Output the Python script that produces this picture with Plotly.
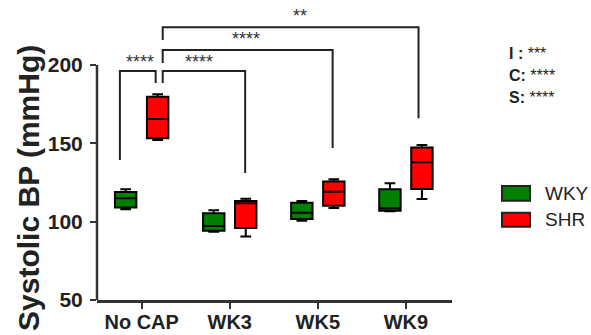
import plotly.graph_objects as go

# ---------------- data ----------------
categories = ["No CAP", "WK3", "WK5", "WK9"]

wky_lower = [108.0, 93.6, 100.6, 106.6]
wky_q1 = [109.1, 94.2, 101.7, 107.0]
wky_median = [114.9, 97.2, 105.7, 108.5]
wky_q3 = [119.0, 105.4, 112.1, 120.7]
wky_upper = [120.7, 107.3, 113.2, 124.5]

shr_lower = [152.1, 90.6, 108.7, 114.4]
shr_q1 = [153.2, 95.9, 110.2, 120.8]
shr_median = [165.5, 111.7, 119.1, 137.9]
shr_q3 = [179.8, 113.2, 125.6, 147.3]
shr_upper = [181.3, 114.7, 127.1, 149.0]

y_ticks = [50, 100, 150, 200]

# significance brackets: left x, right x (category units), top, left-leg bottom, right-leg bottom, label, label x, label y
br_left = [-0.247, 0.239, 0.239, 0.239]
br_right = [0.159, 1.175, 2.168, 3.143]
br_top = [196.2, 196.2, 209.6, 224.1]
br_left_bottom = [139.4, 188.5, 201.3, 216.0]
br_right_bottom = [188.5, 131.1, 147.0, 166.0]
br_label = ["****", "****", "****", "**"]
br_label_x = [-0.02, 0.65, 1.18, 1.797]
br_label_y = [202.0, 202.0, 216.6, 231.3]

stats_labels = ["I :", "C:", "S:"]
stats_stars = ["***", "****", "****"]

series_names = ["WKY", "SHR"]
series_colors = ["#008000", "#ff0000"]

FONT = "Liberation Sans, Arial, sans-serif"
INK = "#222222"

fig = go.Figure()
fig.add_trace(go.Box(
    name=series_names[0], x=categories,
    q1=wky_q1, median=wky_median, q3=wky_q3,
    lowerfence=wky_lower, upperfence=wky_upper,
    fillcolor=series_colors[0], line=dict(color="black", width=2),
    whiskerwidth=0.5, boxpoints=False, showlegend=False,
))
fig.add_trace(go.Box(
    name=series_names[1], x=categories,
    q1=shr_q1, median=shr_median, q3=shr_q3,
    lowerfence=shr_lower, upperfence=shr_upper,
    fillcolor=series_colors[1], line=dict(color="black", width=2),
    whiskerwidth=0.5, boxpoints=False, showlegend=False,
))

shapes = []
annotations = []

# y axis line only from 50 to 200
shapes.append(dict(type="line", xref="paper", yref="y", x0=0, x1=0,
                   y0=y_ticks[0], y1=y_ticks[-1], line=dict(color="#333333", width=2.5)))

# brackets
for i in range(len(br_label)):
    path = (f"M {br_left[i]},{br_left_bottom[i]} L {br_left[i]},{br_top[i]} "
            f"L {br_right[i]},{br_top[i]} L {br_right[i]},{br_right_bottom[i]}")
    shapes.append(dict(type="path", xref="x", yref="y", path=path,
                       line=dict(color="#222222", width=2)))
    annotations.append(dict(x=br_label_x[i], y=br_label_y[i], xref="x", yref="y",
                            text=br_label[i], showarrow=False, xanchor="center", yanchor="middle",
                            font=dict(family=FONT, size=18, color="#333333")))

# y title
annotations.append(dict(x=-0.1915, y=0.38, xref="paper", yref="paper", text="Systolic BP (mmHg)",
                        textangle=-90, showarrow=False, xanchor="center", yanchor="middle",
                        font=dict(family=FONT, size=30, color=INK, weight="bold")))

# stats text
stats_y = [0.834, 0.760, 0.688]
for lab, st, yy in zip(stats_labels, stats_stars, stats_y):
    annotations.append(dict(x=1.155, y=yy, xref="paper", yref="paper",
                            text=f"<b>{lab}</b> {st}", showarrow=False,
                            xanchor="left", yanchor="middle",
                            font=dict(family=FONT, size=16, color=INK)))

# manual legend
leg_y0 = [0.3366, 0.2485]
leg_y1 = [0.3864, 0.2959]
for name, col, y0, y1 in zip(series_names, series_colors, leg_y0, leg_y1):
    shapes.append(dict(type="rect", xref="paper", yref="paper", x0=1.1408, x1=1.2197,
                       y0=y0, y1=y1, fillcolor=col, line=dict(color="#222222", width=2)))
    annotations.append(dict(x=1.2563, y=(y0 + y1) / 2, xref="paper", yref="paper", text=name,
                            showarrow=False, xanchor="left", yanchor="middle",
                            font=dict(family=FONT, size=19, color=INK)))

fig.update_layout(
    width=591, height=335,
    margin=dict(l=97, r=139, t=5, b=35, autoexpand=False),
    paper_bgcolor="white", plot_bgcolor="white",
    boxmode="group", boxgap=0.2736, boxgroupgap=0.33,
    showlegend=False,
    shapes=shapes, annotations=annotations,
    hovermode=False,
    xaxis=dict(
        type="category", categoryorder="array", categoryarray=categories,
        range=[-0.507, 3.523], showline=True, linecolor="#333333", linewidth=2.5,
        ticks="outside", ticklen=6, tickwidth=2, tickcolor="#333333",
        showgrid=False, zeroline=False, automargin=False, ticklabelstandoff=-4,
        tickfont=dict(family=FONT, size=20, color=INK, weight="bold"),
    ),
    yaxis=dict(
        range=[50, 238.3], showline=False, tickvals=y_ticks,
        ticks="outside", ticklen=6, tickwidth=2, tickcolor="#333333",
        showgrid=False, zeroline=False, automargin=False, ticklabelstandoff=3,
        tickfont=dict(family=FONT, size=21, color=INK, weight="bold"),
    ),
)

fig.write_html(
    "out.html",
    config={"displayModeBar": False},
    post_script="document.body.style.margin='0';document.body.style.overflow='hidden';",
)
